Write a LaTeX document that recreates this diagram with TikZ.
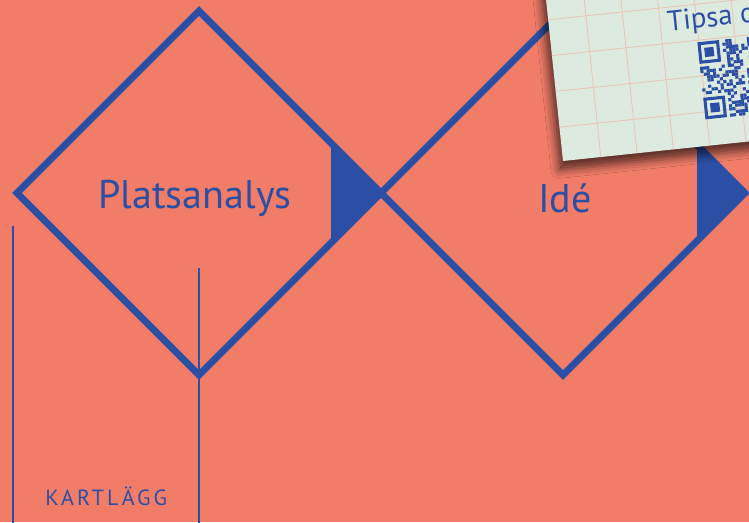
\documentclass[tikz,border=0pt]{standalone}
\usepackage{fontspec}
\setmainfont{PT Sans}
\usepackage{tikz}
\usetikzlibrary{shadows.blur}

\definecolor{salmon}{HTML}{F17D69}
\definecolor{idblue}{HTML}{2B4FA4}
\definecolor{cardgreen}{HTML}{DDEADF}
\definecolor{gridpink}{HTML}{EDC3B4}

\tikzset{
  diamondline/.style={draw=idblue, line width=5.25pt},
  stemline/.style={draw=idblue, line width=2.2pt},
  arrowfill/.style={fill=idblue},
  gridline/.style={draw=gridpink, line width=0.6pt},
  bigtext/.style={text=idblue, font=\fontsize{30}{36}\selectfont, inner sep=0.75pt}
}

\begin{document}
\begin{tikzpicture}[x=0.75pt,y=0.75pt,yscale=-1,xscale=1]
\useasboundingbox (0,0) rectangle (749,522);
\clip (0,0) rectangle (749,522);
%Shape: Background
\fill[salmon] (0,0) rectangle (749,522);

%Shape: Vertical lines
\draw[stemline] (13,226) -- (13,530);
\draw[stemline] (199,268) -- (199,530);

%Shape: Triangle markers
\fill[arrowfill] (331,143) -- (381,193) -- (331,243) -- cycle;
\fill[arrowfill] (697,145) -- (745,193) -- (697,241) -- cycle;
%Shape: Diamonds
\draw[diamondline] (199,11) -- (381,193) -- (199,375) -- (17,193) -- cycle;
\draw[diamondline] (563,11) -- (745,193) -- (563,375) -- (381,193) -- cycle;

% Text Node
\node[bigtext] (platsanalys) at (195,198) {Platsanalys};
% Text Node
\node[bigtext] (ide) at (565,198) {Idé};
% Text Node
\node[anchor=base west, text=idblue, inner sep=0pt,
      font=\fontsize{16.5}{20}\selectfont\addfontfeature{LetterSpace=14}] (kartlagg) at (45,505) {KARTLÄGG};

%Shape: Card
\begin{scope}[shift={(563,161)}, rotate=-6]
  \fill[cardgreen, blur shadow={shadow xshift=-3pt, shadow yshift=-7pt, shadow blur radius=6pt, shadow opacity=60}] (0,-340) rectangle (330,0);
  \foreach \gx in {38,74.5,...,330} \draw[gridline] (\gx,-340) -- (\gx,0);
  \foreach \gy in {-34,-70,...,-340} \draw[gridline] (0,\gy) -- (330,\gy);
  % QR code
  \pgfmathsetseed{42}
  \foreach \qi in {0,...,24}{
    \foreach \qj in {0,...,24}{
      \pgfmathrandominteger{\qbit}{0}{1}
      \pgfmathtruncatemacro{\qfree}{!(((\qi<8)&&(\qj<8))||((\qi>16)&&(\qj<8))||((\qi<8)&&(\qj>16)))}
      \ifnum\qfree=1 \ifnum\qbit=1
        \fill[idblue] (146+\qi*3.1,-104+\qj*3.1) rectangle ++(3.1,3.1);
      \fi\fi
    }}
  \foreach \fx/\fy in {0/0, 55.8/0, 0/55.8}{
    \draw[idblue, line width=2.3pt] (147.55+\fx,-102.45+\fy) rectangle ++(18.6,18.6);
    \fill[idblue] (152.2+\fx,-97.8+\fy) rectangle ++(9.3,9.3);
  }
  % Text Node
  \node[anchor=base west, rotate=6, text=idblue, inner sep=0pt,
        font=\fontsize{21.5}{26}\selectfont] (tipsa) at (118,-118) {Tipsa o};
\end{scope}

\end{tikzpicture}
\end{document}
